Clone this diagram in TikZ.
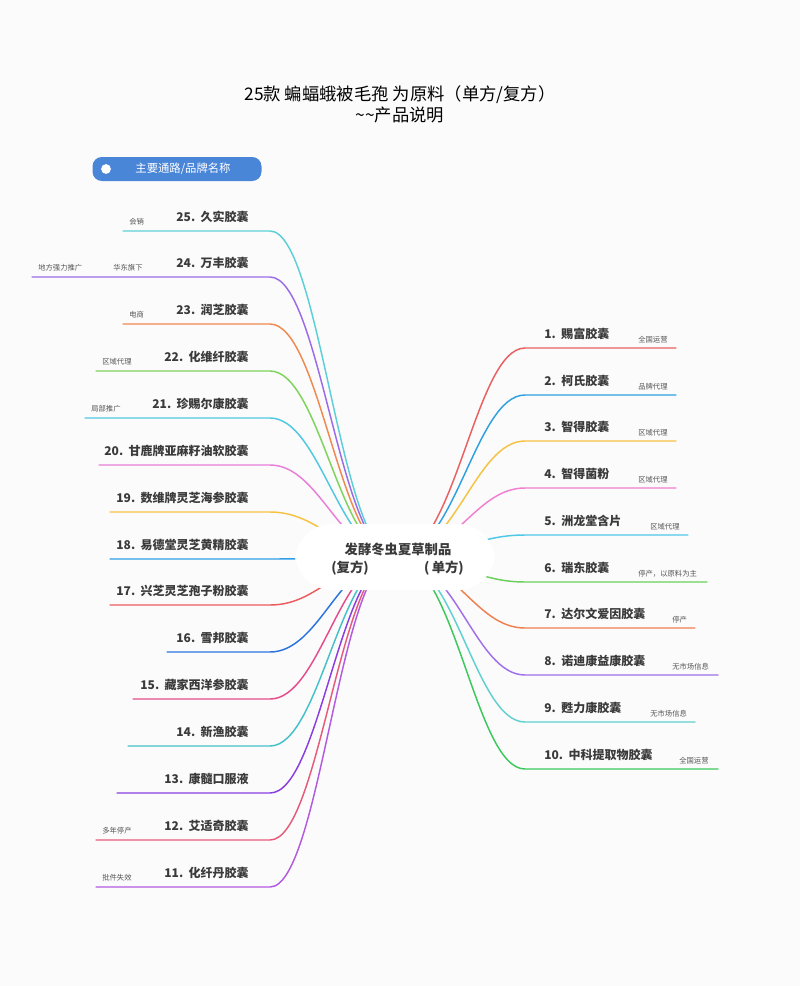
\documentclass[tikz,border=0pt]{standalone}
\usepackage{fontspec}
\setmainfont{Noto Sans CJK SC}
\definecolor{ink}{HTML}{3A3A3A}
\definecolor{note}{HTML}{555555}
\definecolor{pill}{HTML}{4A86D8}
\definecolor{paper}{HTML}{FBFBFC}
\tikzset{
  brand/.style={font=\fontsize{9}{10}\selectfont\bfseries, text=ink, inner sep=0pt},
  remark/.style={font=\fontsize{5.5}{6}\selectfont, text=note, inner sep=0pt},
  branch/.style={line width=1.1pt, line cap=round},
}
\begin{document}
\begin{tikzpicture}[x=0.75pt, y=-0.75pt]
  \fill[paper] (0,0) rectangle (800,986);
  \useasboundingbox (0,0) rectangle (800,986);

  % Titel
  \node[font=\fontsize{13}{16}\selectfont, text=black, align=center] (title) at (400,104)
    {25款 蝙蝠蛾被毛孢 为原料（单方/复方）\\\textasciitilde\textasciitilde 产品说明};

  % Legende
  \node[fill=pill, rounded corners=7pt, minimum width=169*0.75pt, minimum height=24*0.75pt, inner sep=0pt] (legend) at (177,169) {};
  \node[fill=white, circle, inner sep=2.6pt] (dot) at (106,169) {};
  \node[font=\fontsize{8.5}{9}\selectfont, text=white] (legendtxt) at (183,169) {主要通路/品牌名称};

  \coordinate (hub) at (395,557);

  % Linke Seite (复方)
  \foreach \i/\y/\xs/\col/\name/\rem/\rx in {
    25/231/123/5CD0D6/久实胶囊/会销/129,
    24/277/32/9B6BE8/万丰胶囊/华东旗下/113,
    23/324/123/F0894E/润芝胶囊/电商/129,
    22/371/96/7ED35A/化维纤胶囊/区域代理/102,
    21/418/85/4FC8E0/珍赐尔康胶囊/局部推广/91,
    20/465/99/E87FD8/甘鹿牌亚麻籽油软胶囊//99,
    19/512/110/F5C242/数维牌灵芝海参胶囊//110,
    18/559/110/2E9EE8/易德堂灵芝黄精胶囊//110,
    17/605/110/EE5B5B/兴芝灵芝孢子粉胶囊//110,
    16/652/167/2B74DE/雪邦胶囊//167,
    15/699/133/E54C8A/藏家西洋参胶囊//133,
    14/746/128/45C0C8/新渔胶囊//128,
    13/793/117/8A3EE0/康髓口服液//117,
    12/840/96/E55C7A/艾适奇胶囊/多年停产/102,
    11/887/96/B35BE0/化纤丹胶囊/批件失效/102} {
    \definecolor{bc}{HTML}{\col}
    \coordinate (l\i) at (270,\y);
    \coordinate (ls\i) at (\xs,\y);
    \node[brand, anchor=base east] (lb\i) at (249,\y-10) {\i.\ \ \name};
    \node[remark, anchor=base west] (lr\i) at (\rx,\y-7) {\rem};
    \draw[branch, bc] (ls\i) -- (l\i) .. controls (320,\y) and (340,557) .. (hub);
  }
  \node[remark, anchor=base west] (lr24b) at (38,270) {地方强力推广};

  % Rechte Seite (单方)
  \foreach \i/\y/\xe/\col/\name/\rem/\rx in {
    1/348/676/E86060/赐富胶囊/全国运营/638,
    2/395/676/2FA0E0/柯氏胶囊/品牌代理/638,
    3/441/676/F5C242/智得胶囊/区域代理/638,
    4/488/676/F080D0/智得菌粉/区域代理/638,
    5/535/688/50C8E8/洲龙堂含片/区域代理/650,
    6/582/707/6AD05A/瑞东胶囊/停产，以原料为主/638,
    7/628/695/F08050/达尔文爱因胶囊/停产/672,
    8/675/718/A070E8/诺迪康益康胶囊/无市场信息/672,
    9/722/695/60D0D0/甦力康胶囊/无市场信息/650,
    10/769/718/3CC85A/中科提取物胶囊/全国运营/679} {
    \definecolor{bc}{HTML}{\col}
    \coordinate (r\i) at (525,\y);
    \coordinate (re\i) at (\xe,\y);
    \node[brand, anchor=base west] (rb\i) at (544,\y-10) {\i.\ \ \name};
    \node[remark, anchor=base west] (rr\i) at (\rx,\y-6) {\rem};
    \draw[branch, bc] (re\i) -- (r\i) .. controls (475,\y) and (455,557) .. (hub);
  }

  % Zentrum
  \node[fill=white, rounded corners=28pt, minimum width=200*0.75pt, minimum height=66*0.75pt] (core) at (hub) {};
  \node[brand, font=\fontsize{10}{12}\selectfont\bfseries] (coretitle) at (398,549) {发酵冬虫夏草制品};
  \node[brand, font=\fontsize{10}{12}\selectfont\bfseries] (fufang) at (350,568) {(复方)};
  \node[brand, font=\fontsize{10}{12}\selectfont\bfseries] (danfang) at (444,568) {(\,单方)};
\end{tikzpicture}
\end{document}
